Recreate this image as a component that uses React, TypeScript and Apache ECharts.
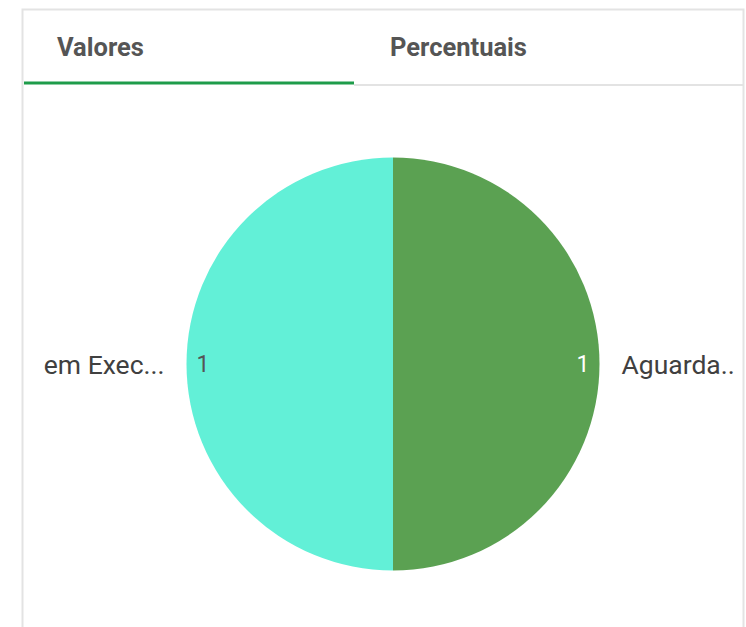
import React, { useEffect, useRef } from "react";
import * as echarts from "echarts";

const categories = ["Aguarda..", "em Exec..."];
const values = [1, 1];
const colors = ["#5ba152", "#62f0d7"];
const valueLabelColors = ["#ffffff", "#555555"];
const tabs = ["Valores", "Percentuais"];

export default function App() {
  const ref = useRef<HTMLDivElement>(null);
  useEffect(() => {
    document.body.style.margin = "0";
    const chart = echarts.init(ref.current!, null, { renderer: "svg" });
    const data = categories.map((name, i) => ({
      name,
      value: values[i],
      itemStyle: { color: colors[i] },
    }));
    chart.setOption({
      animation: false,
      backgroundColor: "#ffffff",
      graphic: [
        {
          type: "rect",
          shape: { x: 22.5, y: 9.5, width: 721, height: 660 },
          style: { fill: "none", stroke: "#e3e3e3", lineWidth: 2 },
          silent: true,
        },
        {
          type: "line",
          shape: { x1: 354, y1: 85, x2: 743, y2: 85 },
          style: { stroke: "#e3e3e3", lineWidth: 2 },
        },
        {
          type: "line",
          shape: { x1: 24, y1: 83, x2: 354, y2: 83 },
          style: { stroke: "#1e9c4a", lineWidth: 3 },
        },
        {
          type: "text",
          x: 57,
          y: 47,
          style: {
            text: tabs[0],
            font: "bold 25.5px Roboto",
            fill: "#555555",
            verticalAlign: "middle",
          },
        },
        {
          type: "text",
          x: 390,
          y: 47,
          style: {
            text: tabs[1],
            font: "bold 25.5px Roboto",
            fill: "#555555",
            verticalAlign: "middle",
          },
        },
      ],
      series: [
        {
          type: "pie",
          center: [393, 364],
          radius: [0, 206.5],
          startAngle: 90,
          clockwise: true,
          silent: true,
          data,
          label: {
            show: true,
            position: "outside",
            formatter: "{b}",
            fontSize: 26.5,
            fontFamily: "Roboto",
            color: "#404040",
            distanceToLabelLine: 5,
          },
          labelLine: { show: false, length: 10, length2: 7 },
        },
        {
          type: "pie",
          center: [393, 364],
          radius: [170, 204],
          startAngle: 90,
          clockwise: true,
          silent: true,
          data: categories.map((name, i) => ({
            name,
            value: values[i],
            itemStyle: { color: "rgba(0,0,0,0)" },
            label: { color: valueLabelColors[i] },
          })),
          label: {
            show: true,
            position: "inside",
            formatter: "{c}",
            fontSize: 23,
            fontWeight: "normal",
            fontFamily: "Roboto",
          },
          labelLine: { show: false },
        },
      ],
    });
    return () => chart.dispose();
  }, []);
  return (
    <div
      ref={ref}
      style={{ position: "absolute", left: 0, top: 0, width: 746, height: 627 }}
    />
  );
}
